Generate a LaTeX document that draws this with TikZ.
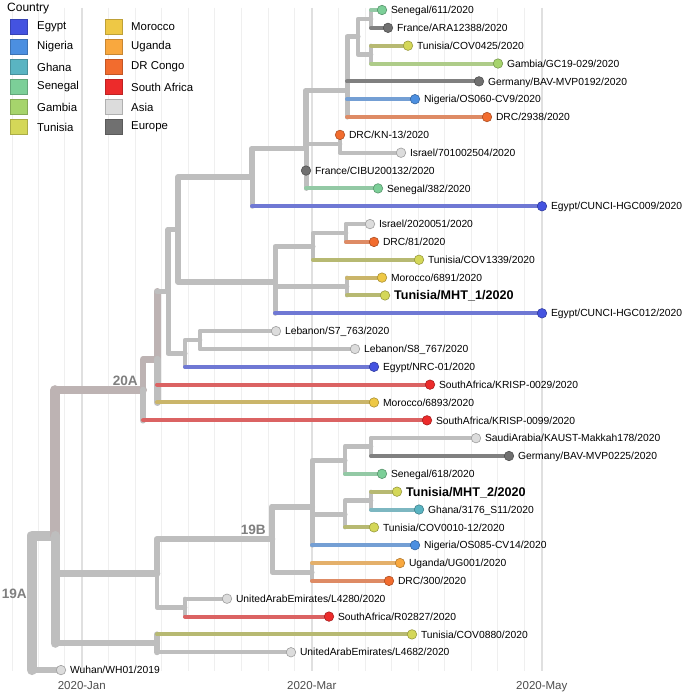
\documentclass[tikz,border=0pt]{standalone}
\usepackage{fontspec}
\setmainfont{Liberation Sans}
\pgfdeclarelayer{gridlayer}
\pgfdeclarelayer{bglayer}
\pgfdeclarelayer{midlayer}
\pgfsetlayers{gridlayer,bglayer,midlayer,main}
\definecolor{egypt}{HTML}{4453E0}
\definecolor{nigeria}{HTML}{4C8FE0}
\definecolor{ghana}{HTML}{5AB4C2}
\definecolor{senegal}{HTML}{7CCF98}
\definecolor{gambia}{HTML}{A6D46C}
\definecolor{tunisia}{HTML}{D4D758}
\definecolor{morocco}{HTML}{EEC845}
\definecolor{uganda}{HTML}{F9A83E}
\definecolor{drc}{HTML}{F26C2E}
\definecolor{safrica}{HTML}{EC2B2B}
\definecolor{asia}{HTML}{DCDCDC}
\definecolor{europe}{HTML}{707070}
\definecolor{bgray}{HTML}{BEBEBE}
\definecolor{pgray}{HTML}{BDB3B3}
\definecolor{gridminor}{HTML}{EFEFEF}
\definecolor{gridmajor}{HTML}{E0E0E0}
\definecolor{axistext}{HTML}{4D4D4D}
\definecolor{cladetext}{HTML}{7F7F7F}
\colorlet{egyptbr}{egypt!65!bgray}
\colorlet{nigeriabr}{nigeria!65!bgray}
\colorlet{ghanabr}{ghana!65!bgray}
\colorlet{senegalbr}{senegal!65!bgray}
\colorlet{gambiabr}{gambia!65!bgray}
\colorlet{tunisiabr}{tunisia!62!bgray!90!black}
\colorlet{moroccobr}{morocco!62!bgray!92!black}
\colorlet{ugandabr}{uganda!65!bgray}
\colorlet{drcbr}{drc!62!bgray}
\colorlet{safricabr}{safrica!62!bgray}
\definecolor{europebr}{HTML}{808080}
\tikzset{
  branch/.style={draw=bgray, line cap=round, line join=round},
  tipdot/.style={circle, fill=#1, draw=#1!72!black, line width=0.6pt, minimum size=9.5pt, inner sep=0pt},
  tiplabel/.style={anchor=base west, inner sep=0pt, font=\fontsize{10.3}{12}\selectfont, xshift=3.8pt, yshift=-3.7pt},
  boldlabel/.style={anchor=base west, inner sep=0pt, font=\fontsize{12.6}{15}\selectfont\bfseries, xshift=3.8pt, yshift=-4.5pt},
  cladelab/.style={anchor=south east, inner sep=0pt, font=\fontsize{13.6}{16}\selectfont\bfseries, text=cladetext},
  axislab/.style={anchor=base, inner sep=0pt, font=\fontsize{11.5}{14}\selectfont, text=axistext},
  legkey/.style={minimum width=17pt, minimum height=15pt, inner sep=0pt, fill=#1, draw=#1!80!black, line width=0.8pt},
  legtext/.style={anchor=west, inner sep=0pt, font=\fontsize{11.4}{14}\selectfont},
  gminor/.style={draw=gridminor, line width=1pt},
  gmajor/.style={draw=gridmajor, line width=2pt},
}
\newcommand{\Tip}[6]{%
  \node[tipdot=#4] (#1) at (#2,{10+17.84*#3}) {};
  \node[#6] (#1l) at (#1.east) {#5};}
\newcommand{\Tb}[4][4]{%
  \begin{pgfonlayer}{bglayer}\draw[branch, line width=#1pt] (#2) -- (#2 |- #3.center);\end{pgfonlayer}%
  \begin{pgfonlayer}{midlayer}\draw[branch, draw=#4, line width=4pt] (#2 |- #3.center) -- (#3.center);\end{pgfonlayer}}
\begin{document}
\begin{tikzpicture}[x=1pt,y=-1pt]
\useasboundingbox (0,0) rectangle (685,693);
\begin{pgfonlayer}{gridlayer}
\fill[white] (0,0) rectangle (685,693);
\foreach \gx in {12,38.3,64.3,108.6,135.1,161.7,188.3,214.9,241.6,268,294.4,338.5,365,391.7,418.3,444.7,471.2,497.8,524.4}
  \draw[gminor] (\gx,8) -- (\gx,671);
\foreach \gx in {81.8,311.8,541.8}
  \draw[gmajor] (\gx,8) -- (\gx,671);
\end{pgfonlayer}
\node[axislab] (ax1) at (81.8,689) {2020-Jan};
\node[axislab] (ax2) at (311.8,689) {2020-Mar};
\node[axislab] (ax3) at (541.8,689) {2020-May};
% legend
\node[anchor=west, inner sep=0pt, font=\fontsize{12}{14}\selectfont] (legtitle) at (7,9) {Country};
\foreach \c/\t [count=\k from 0] in {egypt/Egypt,nigeria/Nigeria,ghana/Ghana,senegal/Senegal,gambia/Gambia,tunisia/Tunisia}{
  \node[legkey=\c] (lk\k) at (19,27+20*\k) {};
  \node[legtext] (lt\k) at (37,27+20*\k) {\t};
}
\foreach \c/\t [count=\k from 0] in {morocco/Morocco,uganda/Uganda,drc/DR Congo,safrica/South Africa,asia/Asia,europe/Europe}{
  \node[legkey=\c] (lm\k) at (113.5,27+20*\k) {};
  \node[legtext] (lu\k) at (131,27+20*\k) {\t};
}
% internal nodes
\coordinate (root) at (32,602.8);
\coordinate (b0) at (55,535.5);
\coordinate (p20a) at (143,389.9);
\coordinate (q) at (157,359.5);
\coordinate (o) at (168,291.5);
\coordinate (o1) at (178,229.5);
\coordinate (f) at (252,177);
\coordinate (e) at (306,148.3);
\coordinate (a) at (347,90.3);
\coordinate (b) at (358,36.8);
\coordinate (c) at (371,18.9);
\coordinate (d) at (371,54.6);
\coordinate (g) at (340,143.8);
\coordinate (j) at (275,282.1);
\coordinate (i) at (313,246.4);
\coordinate (h) at (346,233);
\coordinate (k) at (347,286.5);
\coordinate (n) at (185,353.4);
\coordinate (m) at (200,340);
\coordinate (z1) at (157,573.4);
\coordinate (n19b) at (272,539.2);
\coordinate (w) at (312,506.5);
\coordinate (t) at (345,460.3);
\coordinate (s) at (371,446.3);
\coordinate (v) at (345,514);
\coordinate (u) at (371,500.6);
\coordinate (yy) at (312,572);
\coordinate (aa) at (185,607.6);
\coordinate (z2) at (157,643.3);
% tips
\Tip{tp0}{382}{0}{senegal}{Senegal/611/2020}{tiplabel}
\Tip{tp1}{388}{1}{europe}{France/ARA12388/2020}{tiplabel}
\Tip{tp2}{408}{2}{tunisia}{Tunisia/COV0425/2020}{tiplabel}
\Tip{tp3}{498}{3}{gambia}{Gambia/GC19-029/2020}{tiplabel}
\Tip{tp4}{479}{4}{europe}{Germany/BAV-MVP0192/2020}{tiplabel}
\Tip{tp5}{415}{5}{nigeria}{Nigeria/OS060-CV9/2020}{tiplabel}
\Tip{tp6}{487}{6}{drc}{DRC/2938/2020}{tiplabel}
\Tip{tp7}{340}{7}{drc}{DRC/KN-13/2020}{tiplabel}
\Tip{tp8}{401}{8}{asia}{Israel/701002504/2020}{tiplabel}
\Tip{tp9}{306}{9}{europe}{France/CIBU200132/2020}{tiplabel}
\Tip{tp10}{378}{10}{senegal}{Senegal/382/2020}{tiplabel}
\Tip{tp11}{542}{11}{egypt}{Egypt/CUNCI-HGC009/2020}{tiplabel}
\Tip{tp12}{370}{12}{asia}{Israel/2020051/2020}{tiplabel}
\Tip{tp13}{374}{13}{drc}{DRC/81/2020}{tiplabel}
\Tip{tp14}{419}{14}{tunisia}{Tunisia/COV1339/2020}{tiplabel}
\Tip{tp15}{382}{15}{morocco}{Morocco/6891/2020}{tiplabel}
\Tip{tp16}{385}{16}{tunisia}{Tunisia/MHT\_1/2020}{boldlabel}
\Tip{tp17}{542}{17}{egypt}{Egypt/CUNCI-HGC012/2020}{tiplabel}
\Tip{tp18}{276}{18}{asia}{Lebanon/S7\_763/2020}{tiplabel}
\Tip{tp19}{355}{19}{asia}{Lebanon/S8\_767/2020}{tiplabel}
\Tip{tp20}{374}{20}{egypt}{Egypt/NRC-01/2020}{tiplabel}
\Tip{tp21}{430}{21}{safrica}{SouthAfrica/KRISP-0029/2020}{tiplabel}
\Tip{tp22}{374}{22}{morocco}{Morocco/6893/2020}{tiplabel}
\Tip{tp23}{427}{23}{safrica}{SouthAfrica/KRISP-0099/2020}{tiplabel}
\Tip{tp24}{476}{24}{asia}{SaudiArabia/KAUST-Makkah178/2020}{tiplabel}
\Tip{tp25}{509}{25}{europe}{Germany/BAV-MVP0225/2020}{tiplabel}
\Tip{tp26}{382}{26}{senegal}{Senegal/618/2020}{tiplabel}
\Tip{tp27}{397}{27}{tunisia}{Tunisia/MHT\_2/2020}{boldlabel}
\Tip{tp28}{419}{28}{ghana}{Ghana/3176\_S11/2020}{tiplabel}
\Tip{tp29}{374}{29}{tunisia}{Tunisia/COV0010-12/2020}{tiplabel}
\Tip{tp30}{415}{30}{nigeria}{Nigeria/OS085-CV14/2020}{tiplabel}
\Tip{tp31}{400}{31}{uganda}{Uganda/UG001/2020}{tiplabel}
\Tip{tp32}{389}{32}{drc}{DRC/300/2020}{tiplabel}
\Tip{tp33}{227}{33}{asia}{UnitedArabEmirates/L4280/2020}{tiplabel}
\Tip{tp34}{329}{34}{safrica}{SouthAfrica/R02827/2020}{tiplabel}
\Tip{tp35}{412}{35}{tunisia}{Tunisia/COV0880/2020}{tiplabel}
\Tip{tp36}{291}{36}{asia}{UnitedArabEmirates/L4682/2020}{tiplabel}
\Tip{tp37}{61}{37}{asia}{Wuhan/WH01/2019}{tiplabel}
% internal branches
\begin{pgfonlayer}{bglayer}
\draw[branch, line width=10pt] (root) |- (b0);
\draw[branch, line width=10pt] (root) -- (root |- tp37.center);
\draw[branch, line width=6.5pt] (root |- tp37.center) -- (tp37.center);
\draw[branch, draw=pgray, line width=9.5pt] (b0) -- (b0 |- p20a);
\draw[branch, draw=pgray, line width=8pt] (b0 |- p20a) -- (p20a);
\draw[branch, line width=9pt] (b0) -- (b0 |- z2);
\draw[branch, line width=6.5pt] (b0 |- z1) -- (z1);
\draw[branch, line width=6pt] (b0 |- z2) -- (z2);
\draw[branch, draw=pgray, line width=6.5pt] (p20a) |- (q);
\draw[branch, draw=pgray, line width=7pt] (q) -- (q |- o);
\draw[branch, line width=5.5pt] (q |- o) -- (o);
\draw[branch, line width=5.5pt] (o) |- (o1);
\draw[branch, line width=5pt] (o) |- (n);
\draw[branch, line width=5.5pt] (o1) |- (f);
\draw[branch, line width=5.5pt] (o1) |- (j);
\draw[branch, line width=5.5pt] (f) |- (e);
\draw[branch, line width=5.5pt] (e) |- (a);
\draw[branch, line width=4.5pt] (e) |- (g);
\draw[branch, line width=5pt] (a) |- (b);
\draw[branch, line width=4.5pt] (b) |- (c);
\draw[branch, line width=4.5pt] (b) |- (d);
\draw[branch, line width=5pt] (j) |- (i);
\draw[branch, line width=4.5pt] (j) |- (k);
\draw[branch, line width=4.5pt] (i) |- (h);
\draw[branch, line width=4.5pt] (n) |- (m);
\draw[branch, line width=6.5pt] (z1) |- (n19b);
\draw[branch, line width=4.5pt] (z1) |- (aa);
\draw[branch, line width=6pt] (n19b) |- (w);
\draw[branch, line width=5pt] (n19b) |- (yy);
\draw[branch, line width=5pt] (w) |- (t);
\draw[branch, line width=5pt] (w) |- (v);
\draw[branch, line width=4.5pt] (t) |- (s);
\draw[branch, line width=4.5pt] (v) |- (u);
\end{pgfonlayer}
% tip branches
\Tb{c}{tp0}{senegalbr}
\Tb{c}{tp1}{europebr}
\Tb{d}{tp2}{tunisiabr}
\Tb{d}{tp3}{gambiabr}
\Tb[5]{a}{tp4}{europebr}
\Tb[5]{a}{tp5}{nigeriabr}
\Tb[5]{a}{tp6}{drcbr}
\Tb{g}{tp7}{drcbr}
\Tb{g}{tp8}{bgray}
\Tb[5]{e}{tp9}{europebr}
\Tb[5]{e}{tp10}{senegalbr}
\Tb[5]{f}{tp11}{egyptbr}
\Tb{h}{tp12}{bgray}
\Tb{h}{tp13}{drcbr}
\Tb{i}{tp14}{tunisiabr}
\Tb{k}{tp15}{moroccobr}
\Tb{k}{tp16}{tunisiabr}
\Tb[5]{j}{tp17}{egyptbr}
\Tb{m}{tp18}{bgray}
\Tb{m}{tp19}{bgray}
\Tb{n}{tp20}{egyptbr}
\Tb[7]{q}{tp21}{safricabr}
\Tb[7]{q}{tp22}{moroccobr}
\Tb[6.5]{p20a}{tp23}{safricabr}
\Tb{s}{tp24}{bgray}
\Tb{s}{tp25}{europebr}
\Tb{t}{tp26}{senegalbr}
\Tb{u}{tp27}{tunisiabr}
\Tb{u}{tp28}{ghanabr}
\Tb{v}{tp29}{tunisiabr}
\Tb[5]{w}{tp30}{nigeriabr}
\Tb{yy}{tp31}{ugandabr}
\Tb{yy}{tp32}{drcbr}
\Tb{aa}{tp33}{bgray}
\Tb{aa}{tp34}{safricabr}
\Tb[6]{z2}{tp35}{tunisiabr}
\Tb[6]{z2}{tp36}{bgray}
% clade labels
\node[cladelab] (c20a) at ([xshift=-5pt,yshift=4pt]p20a) {20A};
\node[cladelab] (c19b) at ([xshift=-6pt,yshift=4pt]n19b) {19B};
\node[cladelab] (c19a) at ([xshift=-5pt,yshift=4pt]root) {19A};
\end{tikzpicture}
\end{document}
